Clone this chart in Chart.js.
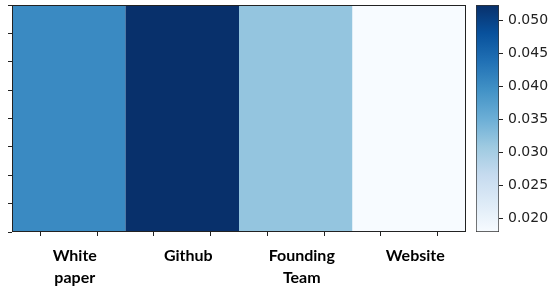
<!DOCTYPE html>
<html>
<head>
<meta charset="utf-8">
<script src="https://cdn.jsdelivr.net/npm/chart.js@4/dist/chart.umd.min.js"></script>
<style>
  html, body { margin: 0; padding: 0; background: #fff; }
  #wrap { position: relative; width: 551px; height: 287px; }
  #heat { position: absolute; left: 0; top: 0; }
  #cbar { position: absolute; left: 470px; top: 0; }
</style>
</head>
<body>
<div id="wrap">
  <canvas id="heat" width="466" height="287"></canvas>
  <canvas id="cbar" width="81" height="287"></canvas>
</div>
<script>
// Data
const categories = [["White", "paper"], "Github", ["Founding", "Team"], "Website"];
const values = [0.0405, 0.0523, 0.0317, 0.0180];
const colorbarTicks = [0.020, 0.025, 0.030, 0.035, 0.040, 0.045, 0.050];

// matplotlib "Blues" colormap stops
const blues = ["#f7fbff", "#deebf7", "#c6dbef", "#9ecae1", "#6baed6", "#4292c6", "#2171b5", "#08519c", "#08306b"];

const vmin = Math.min(...values);
const vmax = Math.max(...values);

function hexToRgb(h) {
    return [parseInt(h.slice(1, 3), 16), parseInt(h.slice(3, 5), 16), parseInt(h.slice(5, 7), 16)];
}

function bluesColor(v) {
    let t = (v - vmin) / (vmax - vmin);
    t = Math.max(0, Math.min(1, t));
    const pos = t * (blues.length - 1);
    const i = Math.min(Math.floor(pos), blues.length - 2);
    const f = pos - i;
    const a = hexToRgb(blues[i]);
    const b = hexToRgb(blues[i + 1]);
    const c = a.map((x, k) => Math.round(x + (b[k] - x) * f));
    return `rgb(${c[0]},${c[1]},${c[2]})`;
}

const axisColor = "#222";

// no extra room for half labels, layout padding decides the box
function noEdgePadding(scale) {
    scale.paddingTop = 0;
    scale.paddingBottom = 0;
    scale.paddingLeft = 0;
    scale.paddingRight = 0;
}

// frame round the heatmap
const framePlugin = {
    id: "frame",
    afterDraw(chart) {
        const a = chart.chartArea;
        const ctx = chart.ctx;
        ctx.save();
        ctx.strokeStyle = axisColor;
        ctx.lineWidth = 1;
        ctx.strokeRect(Math.round(a.left) + 0.5, Math.round(a.top) + 0.5,
            Math.round(a.right - a.left) - 1, Math.round(a.bottom - a.top) - 1);
        ctx.restore();
    },
};

// Heatmap (one row of cells)
new Chart(document.getElementById("heat"), {
    type: "bar",
    data: {
        datasets: [{
            data: values.map((v, i) => ({ x: i + 0.5, y: [0, 8] })),
            backgroundColor: values.map(bluesColor),
            borderWidth: 0,
            barPercentage: 2,     // ticks every half cell halve the sample size
            categoryPercentage: 1,
        }],
    },
    options: {
        responsive: false,
        devicePixelRatio: 1,
        animation: false,
        layout: { padding: { left: 8, right: 0, top: 5, bottom: 0 } },
        plugins: { legend: { display: false }, tooltip: { enabled: false } },
        scales: {
            x: {
                type: "linear",
                min: 0,
                max: 4,
                offset: false,
                afterFit: (scale) => { scale.height = 55; noEdgePadding(scale); },
                grid: { drawOnChartArea: false, color: axisColor, tickLength: 4 },
                border: { display: false },
                ticks: {
                    stepSize: 0.5,
                    autoSkip: false,
                    maxRotation: 0,
                    padding: 9,
                    labelOffset: 6,
                    color: "#000",
                    font: { family: "Lato", weight: "bold", size: 16, lineHeight: "22px" },
                    callback: (v) => (Math.abs(v % 1 - 0.5) < 1e-6 ? categories[Math.floor(v)] : ""),
                },
            },
            y: {
                type: "linear",
                min: 0,
                max: 8,
                afterFit: noEdgePadding,
                grid: { drawOnChartArea: false, color: axisColor, tickLength: 4 },
                border: { display: false },
                ticks: { stepSize: 1, padding: 0, callback: () => "" },
            },
        },
    },
    plugins: [framePlugin],
});

// Colorbar
new Chart(document.getElementById("cbar"), {
    type: "bar",
    data: {
        labels: [""],
        datasets: [{
            data: [[vmin, vmax]],
            backgroundColor: (ctx) => {
                const a = ctx.chart.chartArea;
                if (!a) return blues[4];
                const g = ctx.chart.ctx.createLinearGradient(0, a.bottom, 0, a.top);
                blues.forEach((c, i) => g.addColorStop(i / (blues.length - 1), c));
                return g;
            },
            borderColor: "#333",
            borderWidth: 1,
            borderSkipped: false,
            barPercentage: 1,
            categoryPercentage: 1,
        }],
    },
    options: {
        responsive: false,
        devicePixelRatio: 1,
        animation: false,
        layout: { padding: { left: 6, right: 0, top: 5, bottom: 55 } },
        plugins: { legend: { display: false }, tooltip: { enabled: false } },
        scales: {
            x: { display: false },
            y: {
                position: "right",
                min: vmin,
                max: vmax,
                afterBuildTicks: (scale) => {
                    scale.ticks = colorbarTicks.map((v) => ({ value: v }));
                },
                afterFit: (scale) => { scale.width = 52; noEdgePadding(scale); },
                grid: { drawOnChartArea: false, color: axisColor, tickLength: 4 },
                border: { display: false },
                ticks: {
                    padding: 5,
                    color: "#222",
                    font: { family: "DejaVu Sans", size: 14 },
                    callback: (v) => Number(v).toFixed(3),
                },
            },
        },
    },
});
</script>
</body>
</html>
